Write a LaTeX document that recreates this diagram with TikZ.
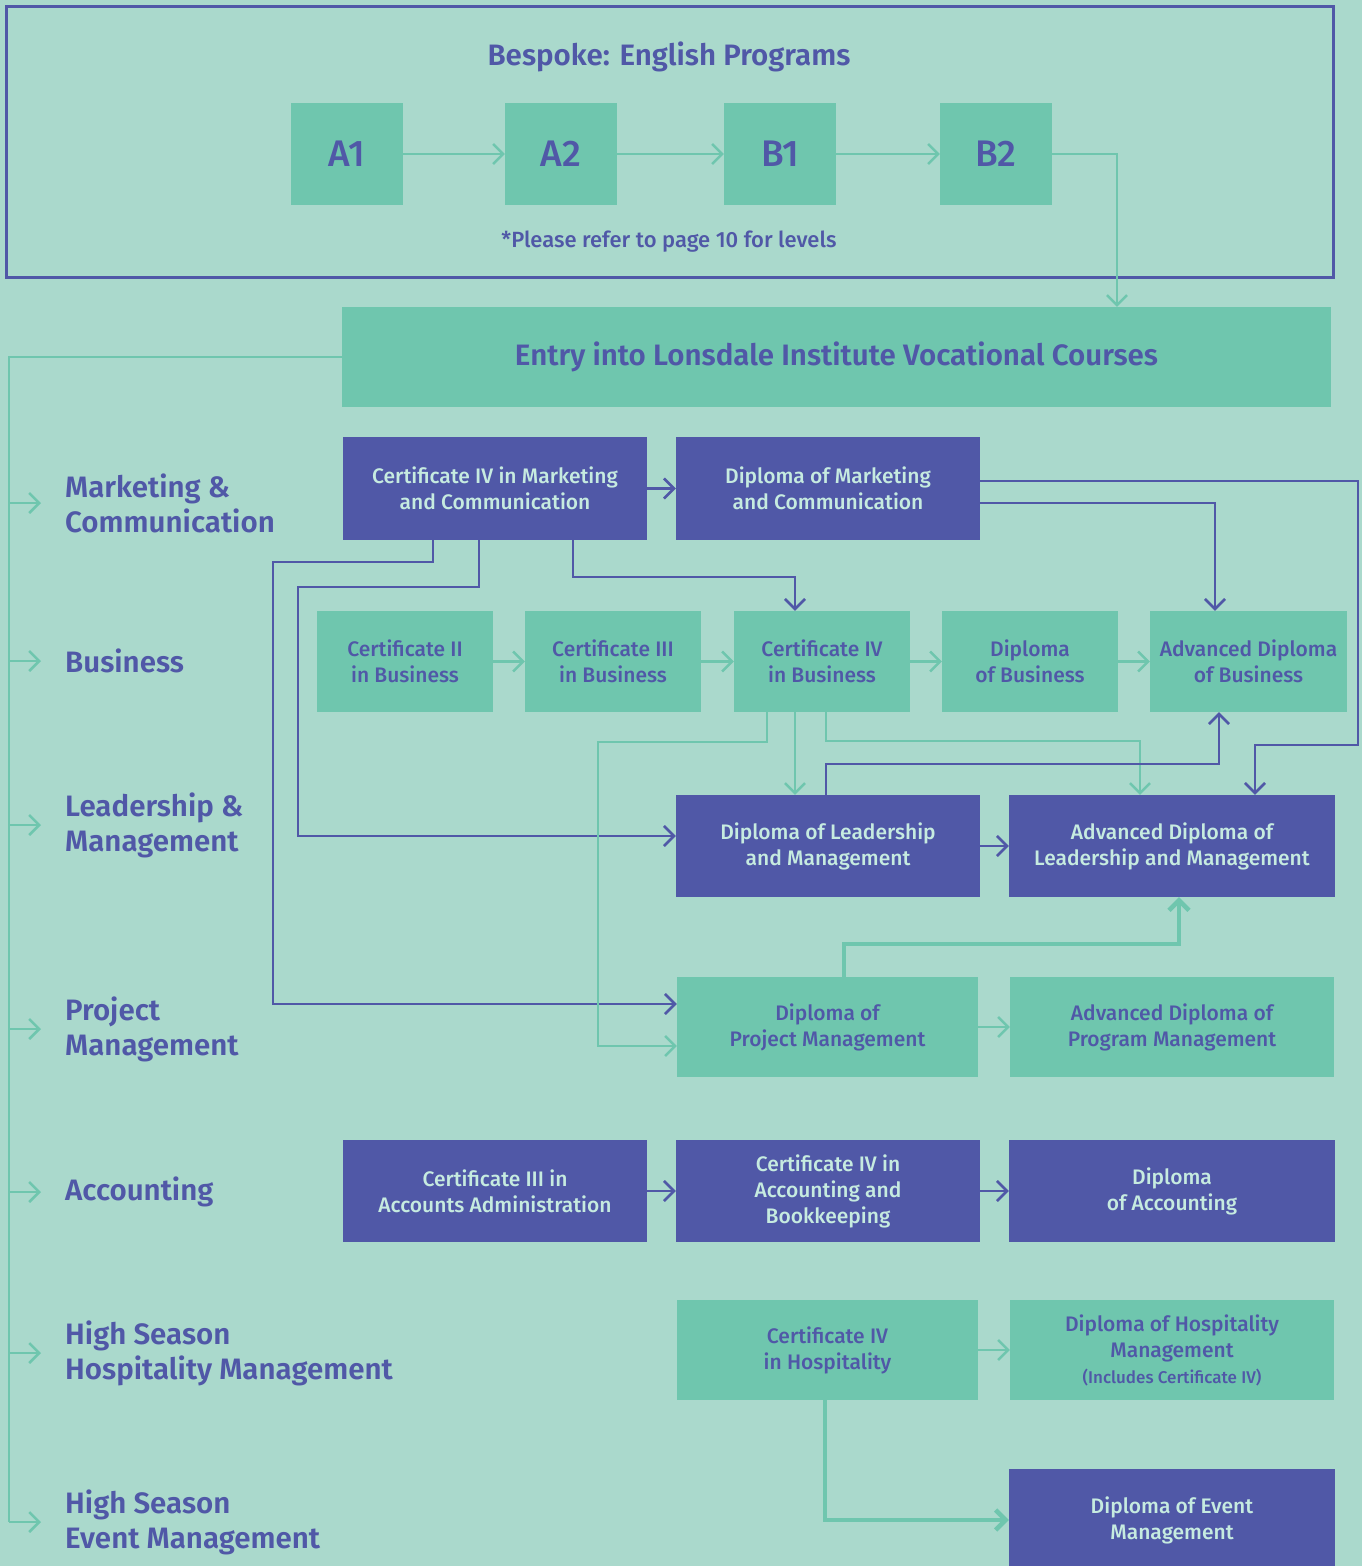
\documentclass[tikz,border=0pt]{standalone}
\usepackage{fontspec}
\setmainfont{Fira Sans}[UprightFont={* Medium},BoldFont={* SemiBold}]
\usetikzlibrary{arrows.meta}
\definecolor{bgcol}{HTML}{AAD9CC}
\definecolor{grn}{HTML}{6FC6AE}
\definecolor{blu}{HTML}{5058A7}
\definecolor{lite}{HTML}{C6EBE0}

\begin{document}
\begin{tikzpicture}[x=1pt,y=-1pt,
  crs/.style={inner sep=0pt,align=center,font=\fontsize{21}{26}\selectfont},
  gnode/.style={crs,fill=grn,text=blu},
  bnode/.style={crs,fill=blu,text=lite},
  lvl/.style={fill=grn,text=blu,minimum width=112pt,minimum height=102pt,font=\fontsize{37}{40}\selectfont},
  heading/.style={text=blu,font=\bfseries\fontsize{29.5}{35}\selectfont},
  lbl/.style={heading,anchor=west,align=left,inner sep=0pt},
  arr/.style={-{Straight Barb[length=10pt,width=20pt]}},
  gline/.style={draw=grn,line width=2.5pt},
  gthick/.style={draw=grn,line width=4.5pt},
  bline/.style={draw=blu,line width=2.6pt}]

\useasboundingbox (0,0) rectangle (1362,1566);
\fill[bgcol] (0,0) rectangle (1362,1566);

% english levels
\node[draw=blu,line width=3pt,minimum width=1327pt,minimum height=271pt] (eng) at (669.5,141.5) {};
\node[heading] (ttl) at (669,57) {Bespoke: English Programs};
\node[lvl] (a1) at (347,154) {A1};
\node[lvl] (a2) at (561,154) {A2};
\node[lvl] (b1) at (780,154) {B1};
\node[lvl] (b2) at (996,154) {B2};
\node[text=blu,font=\fontsize{22}{24}\selectfont] (note) at (669,242) {*Please refer to page 10 for levels};

\node[gnode,minimum width=989pt,minimum height=100pt,font=\bfseries\fontsize{29.5}{35}\selectfont] (entry) at (836.5,357) {Entry into Lonsdale Institute Vocational Courses};

% streams
\node[lbl] (lmk) at (65,503) {Marketing \&\\Communication};
\node[lbl] (lbs) at (65,661) {Business};
\node[lbl] (lld) at (65,825) {Leadership \&\\Management};
\node[lbl] (lpm) at (65,1029) {Project\\Management};
\node[lbl] (lac) at (65,1192) {Accounting};
\node[lbl] (lhs) at (65,1353) {High Season\\Hospitality Management};
\node[lbl] (lev) at (65,1522) {High Season\\Event Management};

% courses
\node[bnode,minimum width=304pt,minimum height=103pt] (cmk) at (495,488.5) {Certificate IV in Marketing\\and Communication};
\node[bnode,minimum width=304pt,minimum height=103pt] (dmk) at (828,488.5) {Diploma of Marketing\\and Communication};

\node[gnode,minimum width=176pt,minimum height=101pt] (cb2) at (405,661.5) {Certificate II\\in Business};
\node[gnode,minimum width=176pt,minimum height=101pt] (cb3) at (613,661.5) {Certificate III\\in Business};
\node[gnode,minimum width=176pt,minimum height=101pt] (cb4) at (822,661.5) {Certificate IV\\in Business};
\node[gnode,minimum width=176pt,minimum height=101pt] (db) at (1030,661.5) {Diploma\\of Business};
\node[gnode,minimum width=197pt,minimum height=101pt] (adb) at (1248.5,661.5) {Advanced Diploma\\of Business};

\node[bnode,minimum width=304pt,minimum height=102pt] (dlm) at (828,846) {Diploma of Leadership\\and Management};
\node[bnode,minimum width=326pt,minimum height=102pt] (adlm) at (1172,846) {Advanced Diploma of\\Leadership and Management};

\node[gnode,minimum width=301pt,minimum height=100pt] (dpm) at (827.5,1027) {Diploma of\\Project Management};
\node[gnode,minimum width=324pt,minimum height=100pt] (adpm) at (1172,1027) {Advanced Diploma of\\Program Management};

\node[bnode,minimum width=304pt,minimum height=102pt] (ca3) at (495,1191) {Certificate III in\\Accounts Administration};
\node[bnode,minimum width=304pt,minimum height=102pt] (ca4) at (828,1191) {Certificate IV in\\Accounting and\\Bookkeeping};
\node[bnode,minimum width=326pt,minimum height=102pt] (dac) at (1172,1191) {Diploma\\of Accounting};

\node[gnode,minimum width=301pt,minimum height=100pt] (ch4) at (827.5,1350) {Certificate IV\\in Hospitality};
\node[gnode,minimum width=324pt,minimum height=100pt] (dh) at (1172,1350) {Diploma of Hospitality\\Management\\{\fontsize{17}{24}\selectfont(Includes Certificate IV)}};

\node[bnode,minimum width=326pt,minimum height=102pt] (dev) at (1172,1520) {Diploma of Event\\Management};

% connectors
\draw[gline,arr] (a1) -- (a2);
\draw[gline,arr] (a2) -- (b1);
\draw[gline,arr] (b1) -- (b2);
\draw[gline,arr] (b2.east) -| ([xshift=280.5pt]entry.north);

\coordinate (trunk) at (9,357);
\draw[gline] (entry.west) -- (trunk) -- (trunk |- lev.west);
\draw[gline,arr] (trunk |- lmk.west) -- ([xshift=-24pt]lmk.west);
\draw[gline,arr] (trunk |- lbs.west) -- ([xshift=-24pt]lbs.west);
\draw[gline,arr] (trunk |- lld.west) -- ([xshift=-24pt]lld.west);
\draw[gline,arr] (trunk |- lpm.west) -- ([xshift=-24pt]lpm.west);
\draw[gline,arr] (trunk |- lac.west) -- ([xshift=-24pt]lac.west);
\draw[gline,arr] (trunk |- lhs.west) -- ([xshift=-24pt]lhs.west);
\draw[gline,arr] (trunk |- lev.west) -- ([xshift=-24pt]lev.west);

\draw[bline,arr] (cmk) -- (dmk);
\draw[bline,arr] ([xshift=-62pt]cmk.south) |- (273,562) |- ([yshift=23pt]dpm.west);
\draw[bline,arr] ([xshift=-16pt]cmk.south) |- (298,587) |- ([yshift=10pt]dlm.west);
\draw[bline,arr] ([xshift=78pt]cmk.south) |- (795,577) -- ([xshift=-27pt]cb4.north);
\draw[bline,arr] ([yshift=7.5pt]dmk.east) -| (1358,745) -| ([xshift=83pt]adlm.north);
\draw[bline,arr] ([yshift=-14.5pt]dmk.east) -| ([xshift=-33.5pt]adb.north);

\draw[gline,arr] (cb2) -- (cb3);
\draw[gline,arr] (cb3) -- (cb4);
\draw[gline,arr] (cb4) -- (db);
\draw[gline,arr] (db) -- (adb);
\draw[gline,arr] ([xshift=-55pt]cb4.south) |- (598,742) |- ([yshift=-19pt]dpm.west);
\draw[gline,arr] ([xshift=-27pt]cb4.south) -- ([xshift=-27pt]cb4.south |- dlm.north);
\draw[gline,arr] ([xshift=4pt]cb4.south) |- (1140,741) -- ([xshift=-32pt]adlm.north);

\draw[bline,arr] (dlm) -- (adlm);
\draw[bline,arr] ([xshift=-2pt]dlm.north) |- (1219,764) -- ([xshift=-29.5pt]adb.south);

\draw[gline,arr] (dpm) -- (adpm);
\draw[gthick,arr] ([xshift=16.5pt]dpm.north) |- (1179,944) -- ([xshift=7pt]adlm.south);

\draw[bline,arr] (ca3) -- (ca4);
\draw[bline,arr] (ca4) -- (dac);

\draw[gline,arr] (ch4) -- (dh);
\draw[gthick,arr] ([xshift=-2.5pt]ch4.south) |- (dev.west);

\end{tikzpicture}
\end{document}
